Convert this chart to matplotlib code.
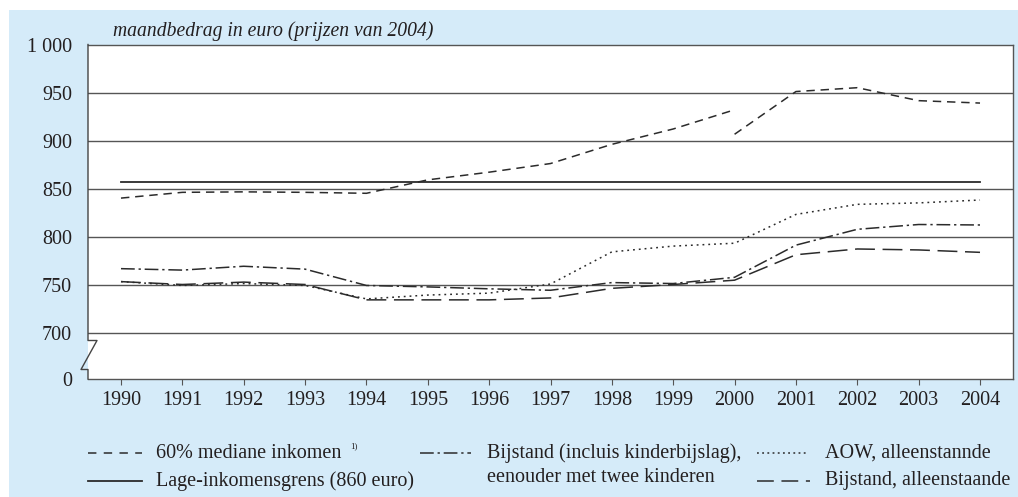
import matplotlib
matplotlib.use("Agg")
import matplotlib.pyplot as plt
from matplotlib.lines import Line2D
from matplotlib.patches import Rectangle

years = list(range(1990, 2005))
median60_a_years = list(range(1990, 2001))
median60_a = [840, 846, 846.5, 846, 845, 859, 867, 876, 896, 912, 932]
median60_b_years = [2000, 2001, 2002, 2003, 2004]
median60_b = [906.5, 951, 955, 941.5, 939]
lage_grens = [857] * len(years)
bijstand_kind = [766.5, 765, 769, 766, 749, 747.5, 745.5, 744, 752, 751, 757.5, 791, 807.5, 812.5, 812]
aow = [753, 749, 751, 749, 735, 739, 741, 750.5, 784, 790, 793, 823, 833.5, 835, 838]
bijstand_alleen = [753, 750, 752.5, 750, 734, 734, 734, 736, 746, 750, 754.5, 781, 787, 786, 783.5]

ytick_vals = [700, 750, 800, 850, 900, 950, 1000]
ytick_labels = ["700", "750", "800", "850", "900", "950", "1 000"]
zero_label = "0"
title_text = "maandbedrag in euro (prijzen van 2004)"
legend_texts = ["60% mediane inkomen", "Lage-inkomensgrens (860 euro)",
                "Bijstand (incluis kinderbijslag),", "eenouder met twee kinderen",
                "AOW, alleenstannde", "Bijstand, alleenstaande"]

W, H = 1018, 497
fig = plt.figure(figsize=(W / 100, H / 100), dpi=100)
fig.patch.set_facecolor("white")
fig.patches.append(Rectangle((9 / W, 0), 1 - 9 / W, (H - 10) / H,
                             transform=fig.transFigure, facecolor="#d5ebf9",
                             edgecolor="none", zorder=-10))

serif = ["Liberation Serif", "DejaVu Serif"]
txtc = "#231f20"
linec = "#2b2b2b"
fs = 14.5

y_bottom = 1000 - (379 - 44.5) / 0.96
ax = fig.add_axes([88 / W, (H - 379) / H, (1013 - 88) / W, (379 - 44.5) / H])
ax.set_facecolor("white")
ax.set_xlim(1990 - 33 / 61.36, 2004 + 33 / 61.36)
ax.set_ylim(y_bottom, 1000)

for v in ytick_vals[:-1]:
    ax.axhline(v, color="#555555", lw=1.0, zorder=1)

short_dash = (0, (5.5, 3.8))
long_dash = (0, (13, 5))
dash_dot = (0, (9, 2.5, 1.5, 2.5))
dotted = (0, (1.2, 2.6))
lw = 1.1

ax.plot(years, lage_grens, color=linec, lw=1.3, ls="-", zorder=3)
ax.plot(median60_a_years, median60_a, color=linec, lw=lw, ls=short_dash, zorder=3)
ax.plot(median60_b_years, median60_b, color=linec, lw=lw, ls=short_dash, zorder=3)
ax.plot(years, bijstand_kind, color=linec, lw=lw, ls=dash_dot, zorder=3)
ax.plot(years, aow, color=linec, lw=lw, ls=dotted, zorder=3)
ax.plot(years, bijstand_alleen, color=linec, lw=lw, ls=long_dash, zorder=3)

# spines
for s in ["top", "right", "bottom"]:
    ax.spines[s].set_color("#555555")
    ax.spines[s].set_linewidth(1.0)
ax.spines["left"].set_visible(False)

# left spine with axis break
ax_w = 1013 - 88
ax_h = 379 - 44.5
def fx(px):
    return (px - 88) / ax_w
def fy(py):
    return (379 - py) / ax_h
bx = [fx(88), fx(88), fx(97), fx(81), fx(88), fx(88)]
by = [fy(44.5), fy(340.5), fy(340.5), fy(369.5), fy(369.5), fy(379)]
ax.add_line(Line2D(bx, by, transform=ax.transAxes, color="#444444", lw=1.0,
                   clip_on=False, zorder=5))

ax.set_xticks(years)
ax.set_xticklabels([str(y) for y in years], fontfamily=serif, fontsize=fs, color=txtc)
ax.tick_params(axis="x", direction="out", length=4.5, width=0.8, color="#555555", pad=4)
ax.set_yticks([y_bottom] + ytick_vals)
ax.set_yticklabels([zero_label] + ytick_labels, fontfamily=serif, fontsize=fs, color=txtc)
ax.tick_params(axis="y", length=0, pad=11.5)

fig.text(113 / W, 1 - 31.5 / H, title_text, fontfamily=serif, style="italic",
         fontsize=14.1, color=txtc, va="center", ha="left")

# legend
def leg_line(x0, x1, y, ls, lwid=lw):
    fig.add_artist(Line2D([x0 / W, x1 / W], [1 - y / H, 1 - y / H], color=linec,
                          lw=lwid, ls=ls, transform=fig.transFigure))
def leg_text(x, y, s):
    fig.text(x / W, 1 - y / H, s, fontfamily=serif, fontsize=fs, color=txtc,
             va="center", ha="left")

r1, r2 = 453, 481
leg_line(88, 142, r1, (0, (5.5, 4.8)))
leg_text(156, r1, legend_texts[0])
fig.text(350 / W, 1 - 446 / H, "1)", fontfamily=serif, fontsize=6.5, color=txtc,
         va="center", ha="left")
leg_line(88, 142, r2, "-", 1.3)
leg_text(156, r2, legend_texts[1])
leg_line(420, 471, r1, dash_dot)
leg_text(487, r1, legend_texts[2])
leg_text(487, r2 - 3, legend_texts[3])
leg_line(757, 807, r1, (0, (1.2, 2.2)))
leg_text(825, r1, legend_texts[4])
leg_line(757, 810, r2, (0, (11, 5)))
leg_text(825, r2, legend_texts[5])

fig.savefig("out.png", dpi=100)
